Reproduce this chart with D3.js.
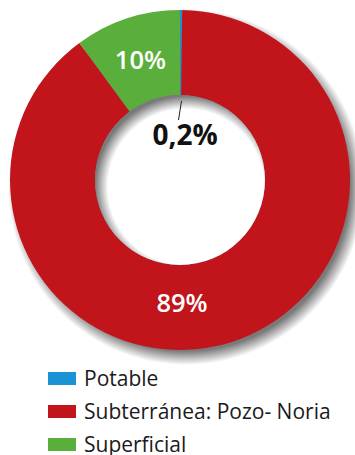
<!DOCTYPE html>
<html>
<head>
<meta charset="utf-8">
<script src="https://cdn.jsdelivr.net/npm/d3@7"></script>
<style>
  html, body { margin: 0; padding: 0; background: #fff; }
  svg { display: block; }
</style>
</head>
<body>
<div id="chart"></div>
<script>
const categories = ["Potable", "Subterránea: Pozo- Noria", "Superficial"];
const values = [0.2, 89, 10];
const valueLabels = ["0,2%", "89%", "10%"];
const colors = ["#1a93d6", "#c2141b", "#5aae3b"];

const w = 355, h = 455;
const cx = 180, cy = 180, rOuter = 170, rInner = 85;
const off = [6, 7];

const svg = d3.select("#chart").append("svg")
  .attr("width", w)
  .attr("height", h)
  .attr("viewBox", [0, 0, w, h]);

const defs = svg.append("defs");

// outer shadow: radial gradient, dark under the ring edge fading to white
const rOut = rOuter + 8;
const gOut = defs.append("radialGradient")
  .attr("id", "shadeOut")
  .attr("gradientUnits", "userSpaceOnUse")
  .attr("cx", 0).attr("cy", 0).attr("r", rOut);
gOut.append("stop").attr("offset", (rOuter - 6) / rOut).attr("stop-color", "#7a7a7a");
gOut.append("stop").attr("offset", 1).attr("stop-color", "#ffffff");

// hole shadow: white in the middle, dark toward the shifted inner edge
const rIn = rInner + 8;
const gIn = defs.append("radialGradient")
  .attr("id", "shadeIn")
  .attr("gradientUnits", "userSpaceOnUse")
  .attr("cx", 0).attr("cy", 0).attr("r", rIn);
gIn.append("stop").attr("offset", (rInner - 7) / rIn).attr("stop-color", "#ffffff");
gIn.append("stop").attr("offset", (rInner + 6) / rIn).attr("stop-color", "#7a7a7a");
gIn.append("stop").attr("offset", 1).attr("stop-color", "#7a7a7a");

defs.append("clipPath").attr("id", "holeClip")
  .append("circle").attr("r", rInner);

const data = categories.map((c, i) => ({ name: c, value: values[i], label: valueLabels[i], color: colors[i] }));

const pie = d3.pie().sort(null).value(d => d.value);
const arcs = pie(data);
const arc = d3.arc().innerRadius(rInner).outerRadius(rOuter);

const g = svg.append("g").attr("transform", `translate(${cx},${cy})`);

g.append("circle")
  .attr("cx", off[0]).attr("cy", off[1])
  .attr("r", rOut)
  .attr("fill", "url(#shadeOut)")
  .attr("transform", null);
// gradient is centred on the circle's own origin, so shift with a group instead
g.select("circle").remove();
g.append("g")
  .attr("transform", `translate(${off[0]},${off[1]})`)
  .append("circle")
    .attr("r", rOut)
    .attr("fill", "url(#shadeOut)");

g.append("g")
  .selectAll("path")
  .data(arcs)
  .join("path")
    .attr("d", arc)
    .attr("fill", d => d.data.color);

const hole = g.append("g").attr("clip-path", "url(#holeClip)");
hole.append("circle").attr("r", rInner).attr("fill", "#7a7a7a");
hole.append("g")
  .attr("transform", `translate(${off[0]},${off[1]})`)
  .append("circle")
    .attr("r", rIn)
    .attr("fill", "url(#shadeIn)");

// labels inside the ring; the big slice label sits at the bottom
const labelArc = d3.arc().innerRadius(127).outerRadius(127);
g.selectAll("text.val")
  .data(arcs.filter(d => d.data.value > 1))
  .join("text")
    .attr("class", "val")
    .attr("transform", d => {
      let [x, y] = labelArc.centroid(d);
      if (d.data.value > 50) { x = 2; y = 122.5; }
      return `translate(${x},${y})`;
    })
    .attr("text-anchor", "middle")
    .attr("dy", "0.36em")
    .attr("fill", "#fff")
    .style("font-family", "'Open Sans', sans-serif")
    .style("font-weight", 600)
    .style("font-size", "25.5px")
    .text(d => d.data.label);

// small slice: leader line + label in the hole
const small = arcs[0];
const mid = (small.startAngle + small.endAngle) / 2;
const p1 = [Math.sin(mid) * (rInner - 6), -Math.cos(mid) * (rInner - 6)];
g.append("line")
  .attr("x1", p1[0] + 1).attr("y1", p1[1])
  .attr("x2", p1[0] - 2).attr("y2", -60)
  .attr("stroke", "#222")
  .attr("stroke-width", 1);

g.append("text")
  .attr("x", 5)
  .attr("y", -35)
  .attr("text-anchor", "middle")
  .attr("fill", "#111")
  .style("font-family", "'Open Sans', sans-serif")
  .style("font-weight", 700)
  .style("font-size", "28px")
  .text(small.data.label);

// legend
const legend = svg.append("g").attr("transform", "translate(48,372)");
const row = legend.selectAll("g")
  .data(data)
  .join("g")
    .attr("transform", (d, i) => `translate(0,${i * 33})`);

row.append("rect")
  .attr("width", 28)
  .attr("height", 13)
  .attr("fill", d => d.color);

row.append("text")
  .attr("x", 36)
  .attr("y", 14)
  .attr("fill", "#1a1a1a")
  .style("font-family", "'Open Sans', sans-serif")
  .style("font-size", "21px")
  .text(d => d.name);
</script>
</body>
</html>
